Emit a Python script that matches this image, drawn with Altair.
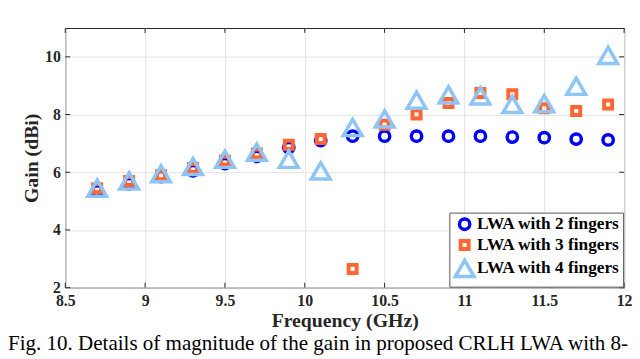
import altair as alt
import pandas as pd

freq = [8.7, 8.9, 9.1, 9.3, 9.5, 9.7, 9.9, 10.1, 10.3, 10.5, 10.7, 10.9, 11.1, 11.3, 11.5, 11.7, 11.9]
gain_2 = [5.35, 5.6, 5.85, 6.05, 6.3, 6.55, 6.85, 7.1, 7.25, 7.25, 7.25, 7.25, 7.25, 7.22, 7.2, 7.15, 7.12]
gain_3 = [5.45, 5.7, 5.9, 6.15, 6.4, 6.65, 6.95, 7.15, 2.65, 7.65, 8.0, 8.4, 8.75, 8.7, 8.22, 8.12, 8.35]
gain_4 = [5.45, 5.7, 5.95, 6.2, 6.45, 6.7, 6.45, 6.05, 7.55, 7.85, 8.5, 8.68, 8.65, 8.35, 8.38, 8.98, 10.05]
series = ["LWA with 2 fingers", "LWA with 3 fingers", "LWA with 4 fingers"]
x_ticks = [8.5, 9, 9.5, 10, 10.5, 11, 11.5, 12]
y_ticks = [2, 4, 6, 8, 10]
caption = "Fig. 10. Details of magnitude of the gain in proposed CRLH LWA with 8-"

rows = []
for name, vals in zip(series, [gain_2, gain_3, gain_4]):
    for f, g in zip(freq, vals):
        rows.append({"Frequency": f, "Gain": g, "Series": name})
df = pd.DataFrame(rows)

W, H = 566, 263
FONT = "Liberation Serif"
AX = "#262626"

xscale = alt.Scale(domain=[8.5, 12], nice=False)
yscale = alt.Scale(domain=[2, 11], nice=False)

points = alt.Chart(df).mark_point(filled=False, fill="transparent", opacity=1).encode(
    x=alt.X("Frequency:Q", scale=xscale,
            axis=alt.Axis(values=x_ticks, title="Frequency (GHz)", ticks=False,
                          labelPadding=5, titlePadding=2, format="~g",
                          labelFlush=False)),
    y=alt.Y("Gain:Q", scale=yscale,
            axis=alt.Axis(values=y_ticks, title="Gain (dBi)", ticks=False,
                          labelPadding=5, titlePadding=3)),
    color=alt.Color("Series:N",
                    scale=alt.Scale(domain=series, range=["#0000FF", "#FF6633", "#8EC5F7"]),
                    legend=alt.Legend(orient="none", legendX=389, legendY=187, title=None,
                                      strokeColor="#555555", fillColor="white",
                                      padding=3, rowPadding=-4, labelFontSize=17.5,
                                      labelFont=FONT, labelFontWeight="bold",
                                      labelColor="black", symbolOffset=1,
                                      labelOffset=1)),
    shape=alt.Shape("Series:N",
                    scale=alt.Scale(domain=series, range=["circle", "square", "triangle-up"])),
    size=alt.Size("Series:N", scale=alt.Scale(type="ordinal", domain=series, range=[110, 66, 360])),
    strokeWidth=alt.StrokeWidth("Series:N",
                                scale=alt.Scale(type="ordinal", domain=series, range=[3.5, 4, 3.5])),
)

ydf = pd.DataFrame({"v": y_ticks})
xdf = pd.DataFrame({"v": x_ticks})
ytl = alt.Chart(ydf).mark_rule(color=AX, strokeWidth=1).encode(
    y=alt.Y("v:Q", scale=yscale), x=alt.value(0), x2=alt.value(5))
ytr = alt.Chart(ydf).mark_rule(color=AX, strokeWidth=1).encode(
    y=alt.Y("v:Q", scale=yscale), x=alt.value(W - 5), x2=alt.value(W))
xtb = alt.Chart(xdf).mark_rule(color=AX, strokeWidth=1).encode(
    x=alt.X("v:Q", scale=xscale), y=alt.value(H - 5), y2=alt.value(H))
xtt = alt.Chart(xdf).mark_rule(color=AX, strokeWidth=1).encode(
    x=alt.X("v:Q", scale=xscale), y=alt.value(0), y2=alt.value(5))

cap = alt.Chart(pd.DataFrame({"t": [caption]})).mark_text(
    align="left", baseline="alphabetic", font=FONT, fontSize=21.3, color="black"
).encode(text="t:N", x=alt.value(-58), y=alt.value(326))

chart = alt.layer(ytl, ytr, xtb, xtt, points, cap).properties(
    width=W, height=H,
    autosize=alt.AutoSizeParams(type="none"),
    padding={"left": 58, "top": 18, "right": 8, "bottom": 70},
).configure_view(stroke=AX, strokeWidth=1).configure_axis(
    grid=True, gridColor="#E3E3E3", gridWidth=1, domain=False,
    labelFont=FONT, labelFontWeight="bold", labelFontSize=16, labelColor=AX,
    titleFont=FONT, titleFontWeight="bold", titleFontSize=20, titleColor=AX,
)

chart.save("out.html", embed_options={"renderer": "svg", "actions": False})
